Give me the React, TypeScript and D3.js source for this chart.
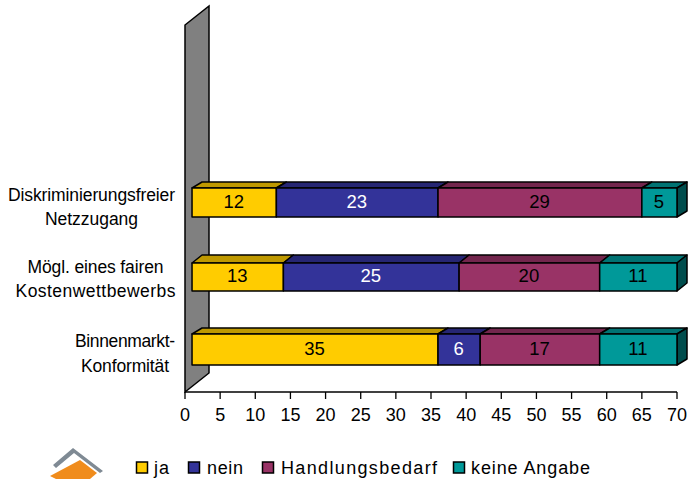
import React from 'react';
import * as d3 from 'd3';

const categories = ['Diskriminierungsfreier|Netzzugang', 'Mögl. eines fairen|Kostenwettbewerbs', 'Binnenmarkt-|Konformität'];
const seriesNames = ['ja', 'nein', 'Handlungsbedarf', 'keine Angabe'];
const ja = [12, 13, 35];
const nein = [23, 25, 6];
const handlungsbedarf = [29, 20, 17];
const keineAngabe = [5, 11, 11];
const xTicks = d3.range(0, 71, 5);

const colors = ['#ffcc00', '#333399', '#993366', '#009999'];
const topColors = ['#bf9900', '#262673', '#73264d', '#007373'];
const sideColors = ['#806600', '#1a1a4d', '#4d1a33', '#004d4d'];
const labelColors = ['#000', '#fff', '#000', '#000'];

const W = 689;
const H = 479;
const FONT = '"Liberation Sans", Arial, sans-serif';

// depth of the 3D floor and of the bars
const wallDx = 24;
const wallDy = 19;
const barDx = 10;
const baseY = 392;
const topY = 25;

const x = d3.scaleLinear().domain([0, 70]).range([185, 677]);
// the bars start one unit in, as the front of the 3D plot sits off the wall
const barStart = 1;
const rowTop = d3.scaleOrdinal<string, number>().domain(categories).range([188, 263, 334]);
const rowHeight = d3.scaleOrdinal<string, number>().domain(categories).range([29, 28, 31]);
const rowDepth = d3.scaleOrdinal<string, number>().domain(categories).range([6, 8, 6]);

// category label placement: block centre, two baselines, stretched widths
const labelCentre = [91.5, 95.5, 125];
const labelBase = [[201, 225], [273, 297], [347, 372]];
const labelWidth = [[167, 93], [136, 160], [100, 88]];

const legendBox = [136.5, 188.5, 262.5, 453.5];
const legendText = [154, 207, 281, 471];
const legendWidth = [15, 36, 156, 119];

const stacked = d3.stack<number>()
  .keys(d3.range(4).map(String))
  .value((i, k) => [ja, nein, handlungsbedarf, keineAngabe][+k][i])(d3.range(3));

const poly = (pts: [number, number][]) => pts.map(p => p.join(',')).join(' ');

export default function App() {
  return (
    <svg width={W} height={H} style={{ position: 'absolute', left: 0, top: 0, background: '#fff' }} fontFamily={FONT}>
      <defs>
        <filter id="soft" x="-10%" y="-10%" width="120%" height="120%">
          <feGaussianBlur stdDeviation="0.6" />
        </filter>
      </defs>
      <polygon
        points={poly([[x(0), topY], [x(0) + wallDx, topY - wallDy], [x(0) + wallDx, baseY - wallDy], [x(0), baseY]])}
        fill="#808080" stroke="#000" strokeWidth={1.5}
      />
      <line x1={x(0)} x2={x(70)} y1={baseY} y2={baseY} stroke="#000" strokeWidth={1.3} />
      {xTicks.map(t => (
        <g key={t}>
          <line x1={x(t)} x2={x(t)} y1={baseY} y2={baseY + 7} stroke="#000" strokeWidth={1.3} />
          <text x={x(t)} y={baseY + 29} fontSize={18} textAnchor="middle" fill="#000">{t}</text>
        </g>
      ))}

      {categories.map((c, r) => {
        const y0 = rowTop(c);
        const h = rowHeight(c);
        const d = rowDepth(c);
        const mid = y0 + h / 2;
        return (
          <g key={c}>
            {c.split('|').map((line, l) => (
              <text
                key={line} x={labelCentre[r]} y={labelBase[r][l]} fontSize={17.5} textAnchor="middle" fill="#000"
                textLength={labelWidth[r][l]} lengthAdjust="spacing"
              >
                {line}
              </text>
            ))}
            {stacked.map((s, k) => {
              const a = x(s[r][0] + barStart);
              const b = x(s[r][1] + barStart);
              return (
                <g key={k} stroke="#000" strokeWidth={1.5} strokeLinejoin="round">
                  <polygon points={poly([[a, y0], [a + barDx, y0 - d], [b + barDx, y0 - d], [b, y0]])} fill={topColors[k]} />
                  {k === 3 && (
                    <polygon points={poly([[b, y0], [b + barDx, y0 - d], [b + barDx, y0 + h - d], [b, y0 + h]])} fill={sideColors[k]} />
                  )}
                  <rect x={a} y={y0} width={b - a} height={h} fill={colors[k]} />
                  <text x={(a + b) / 2 - 0.5} y={mid + 5} fontSize={18.5} textAnchor="middle" fill={labelColors[k]} stroke="none">
                    {s[r][1] - s[r][0]}
                  </text>
                </g>
              );
            })}
          </g>
        );
      })}

      {/* logo */}
      <g filter="url(#soft)">
        <polygon points="73,448 103,471 100,473 74,453 56,468 53,465" fill="#7f8a94" />
        <polygon points="80,460 97,473 90,479 56,479 50,476" fill="#f08c1e" />
      </g>

      {/* legend */}
      {seriesNames.map((n, i) => (
        <g key={n}>
          <rect x={legendBox[i]} y={462} width={11} height={11} fill={colors[i]} stroke="#000" strokeWidth={1.5} />
          <text x={legendText[i]} y={474} fontSize={18} fill="#000" textLength={legendWidth[i]} lengthAdjust="spacing">{n}</text>
        </g>
      ))}
    </svg>
  );
}
